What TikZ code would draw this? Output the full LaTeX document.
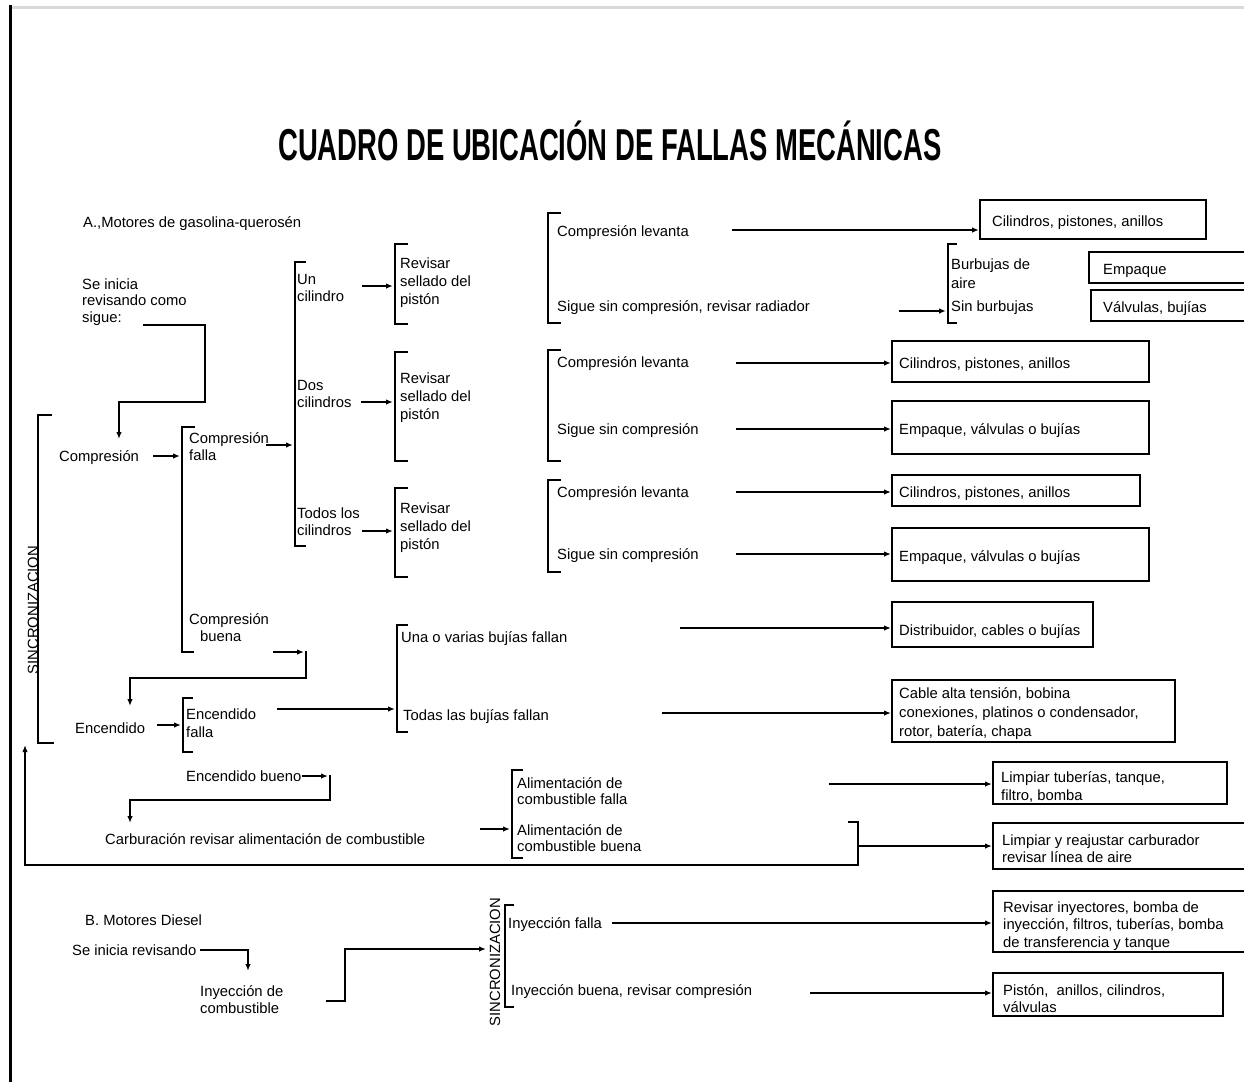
\documentclass[tikz,border=0pt]{standalone}
\usepackage{fontspec}
\setmainfont{Liberation Sans}
\usetikzlibrary{arrows.meta}
\newcommand\bodyfont{\fontsize{14.8}{17.5}\selectfont}
\tikzset{
  tx/.style={font=\bodyfont, inner sep=0pt, align=left, anchor=base west},
  ln/.style={line width=1.5pt},
  arr/.style={line width=1.5pt, -{Latex[length=7pt,width=5.5pt]}},
  box/.style={draw, line width=1.6pt, anchor=north west, inner sep=0pt},
  bt/.style={font=\bodyfont, inner sep=0pt, align=left, anchor=west, yshift=-3pt},
  vt/.style={font=\bodyfont, inner sep=0pt, rotate=90},
}
\begin{document}
\begin{tikzpicture}[x=1pt,y=-1pt]
\useasboundingbox (0,0) rectangle (1244,1082);
% frame
\draw[line width=3pt, black!15] (10,7) -- (1244,7);
\draw[line width=3pt] (10,5) -- (10,1082);
% title
\node[inner sep=0pt, anchor=base] (title) at (610,160)
  {\scalebox{0.614}[1]{\fontsize{44.7}{50}\selectfont\bfseries CUADRO DE UBICACIÓN DE FALLAS MECÁNICAS}};

% ---------------- Section A texts (multi-line nodes anchored at last baseline)
\node[tx] (hA) at (83,227) {A.,Motores de gasolina-querosén};
\node[tx, font=\fontsize{14.8}{16.5}\selectfont] (se) at (82,322) {Se inicia\\revisando como\\sigue:};
\node[tx] (comp) at (59,461) {Compresión};
\node[tx, font=\fontsize{14.8}{17}\selectfont] (cf) at (189,460) {Compresión\\falla};
\node[tx] (uc) at (297,301.5) {Un\\cilindro};
\node[tx] (dc) at (297,407.5) {Dos\\cilindros};
\node[tx] (tc) at (297,535.5) {Todos los\\cilindros};
\node[tx, font=\fontsize{14.8}{18}\selectfont] (r1) at (400,304) {Revisar\\sellado del\\pistón};
\node[tx, font=\fontsize{14.8}{18}\selectfont] (r2) at (400,419) {Revisar\\sellado del\\pistón};
\node[tx, font=\fontsize{14.8}{18}\selectfont] (r3) at (400,549) {Revisar\\sellado del\\pistón};
\node[tx] (cl1) at (557,236) {Compresión levanta};
\node[tx] (ss1) at (557,311) {Sigue sin compresión, revisar radiador};
\node[tx, font=\fontsize{14.8}{19}\selectfont] (bu) at (951,288) {Burbujas de\\aire};
\node[tx] (sb) at (951,311) {Sin burbujas};
\node[tx] (cl2) at (557,367) {Compresión levanta};
\node[tx] (ss2) at (557,434) {Sigue sin compresión};
\node[tx] (cl3) at (557,497) {Compresión levanta};
\node[tx] (ss3) at (557,559) {Sigue sin compresión};
\node[tx] (cb) at (189,641.5) {Compresión\\\hspace*{11pt}buena};
\node[tx] (enc) at (75,733) {Encendido};
\node[tx, font=\fontsize{14.8}{18}\selectfont] (ef) at (186,737) {Encendido\\falla};
\node[tx] (uv) at (401,642) {Una o varias bujías fallan};
\node[tx] (tb) at (403,720) {Todas las bujías fallan};
\node[tx] (eb) at (186,781) {Encendido bueno};
\node[tx] (carb) at (105,844) {Carburación revisar alimentación de combustible};
\node[tx, font=\fontsize{14.8}{16.5}\selectfont] (af) at (517,804.5) {Alimentación de\\combustible falla};
\node[tx, font=\fontsize{14.8}{16.5}\selectfont] (ab) at (517,851.5) {Alimentación de\\combustible buena};
\node[vt] (sA) at (33,610) {SINCRONIZACION};

% ---------------- Section B texts
\node[tx] (hB) at (85,925) {B. Motores Diesel};
\node[tx] (sid) at (72,955) {Se inicia revisando};
\node[tx, font=\fontsize{14.8}{17}\selectfont] (iyc) at (200,1013) {Inyección de\\combustible};
\node[tx] (if) at (508,928) {Inyección falla};
\node[tx] (ib) at (511,995) {Inyección buena, revisar compresión};
\node[vt] (sB) at (495,962) {SINCRONIZACION};

% ---------------- Boxes
\node[box, minimum width=226pt, minimum height=39pt] (b1) at (979,199) {};
\node[bt] (b1t) at ([xshift=13pt]b1.west) {Cilindros, pistones, anillos};
\node[box, minimum width=170pt, minimum height=31pt] (b2) at (1088,251) {};
\node[bt] (b2t) at ([xshift=15pt,yshift=-1pt]b2.west) {Empaque};
\node[box, minimum width=170pt, minimum height=31pt] (b3) at (1090,289) {};
\node[bt] (b3t) at ([xshift=13pt]b3.west) {Válvulas, bujías};
\node[box, minimum width=257pt, minimum height=41pt] (b4) at (891,340) {};
\node[bt] (b4t) at ([xshift=8pt]b4.west) {Cilindros, pistones, anillos};
\node[box, minimum width=257pt, minimum height=53pt] (b5) at (891,400) {};
\node[bt] (b5t) at ([xshift=8pt]b5.west) {Empaque, válvulas o bujías};
\node[box, minimum width=248pt, minimum height=31pt] (b6) at (891,474) {};
\node[bt] (b6t) at ([xshift=8pt]b6.west) {Cilindros, pistones, anillos};
\node[box, minimum width=257pt, minimum height=53pt] (b7) at (891,527) {};
\node[bt] (b7t) at ([xshift=8pt]b7.west) {Empaque, válvulas o bujías};
\node[box, minimum width=201pt, minimum height=45pt] (b8) at (891,601) {};
\node[bt] (b8t) at ([xshift=8pt,yshift=-4pt]b8.west) {Distribuidor, cables o bujías};
\node[box, minimum width=283pt, minimum height=62pt] (b9) at (891,679) {};
\node[bt, font=\fontsize{14.8}{19}\selectfont] (b9t) at ([xshift=8pt]b9.west) {Cable alta tensión, bobina\\conexiones, platinos o condensador,\\rotor, batería, chapa};
\node[box, minimum width=234pt, minimum height=42pt] (b10) at (992,761) {};
\node[bt] (b10t) at ([xshift=9pt,yshift=-1pt]b10.west) {Limpiar tuberías, tanque,\\filtro, bomba};
\node[box, minimum width=262pt, minimum height=46pt] (b11) at (992,822) {};
\node[bt] (b11t) at ([xshift=10pt]b11.west) {Limpiar y reajustar carburador\\revisar línea de aire};
\node[box, minimum width=262pt, minimum height=61pt] (b12) at (992,890) {};
\node[bt] (b12t) at ([xshift=11pt,yshift=-1.5pt]b12.west) {Revisar inyectores, bomba de\\inyección, filtros, tuberías, bomba\\de transferencia y tanque};
\node[box, minimum width=230pt, minimum height=43pt] (b13) at (992,972) {};
\node[bt] (b13t) at ([xshift=11pt,yshift=-1.5pt]b13.west) {Pistón,\ \ anillos, cilindros,\\válvulas};

% ---------------- Brackets
\draw[ln] (195,427) -- (182,427) -- (182,652) -- (194,652);   % K1
\draw[ln] (306,262) -- (295,262) -- (295,546) -- (306,546);   % K2
\draw[ln] (408,244) -- (395,244) -- (395,324) -- (408,324);   % K3a
\draw[ln] (408,352) -- (395,352) -- (395,461) -- (408,461);   % K3b
\draw[ln] (408,488) -- (395,488) -- (395,577) -- (408,577);   % K3c
\draw[ln] (561,213) -- (548,213) -- (548,323) -- (561,323);   % K4a
\draw[ln] (561,350) -- (548,350) -- (548,461) -- (561,461);   % K4b
\draw[ln] (561,480) -- (548,480) -- (548,572) -- (561,572);   % K4c
\draw[ln] (957,244) -- (948,244) -- (948,323) -- (957,323);   % K5
\draw[ln] (193,698) -- (183,698) -- (183,752) -- (193,752);   % K6
\draw[ln] (408,625) -- (397,625) -- (397,732) -- (408,732);   % K7
\draw[ln] (52,415) -- (38,415) -- (38,743) -- (54,743);       % K8
\draw[ln] (523,770) -- (512,770) -- (512,858) -- (523,858);   % K9
\draw[ln] (514,905) -- (505,905) -- (505,1007) -- (514,1007); % K10

% ---------------- Connector end points
\coordinate (s1) at (143,325);  \coordinate (e1) at (119,439);
\coordinate (s2) at (153,456);  \coordinate (e2) at (180,456);
\coordinate (s3) at (266,445);  \coordinate (e3) at (293,445);
\coordinate (s4) at (362,286);  \coordinate (e4) at (393,286);
\coordinate (s5) at (361,402);  \coordinate (e5) at (393,402);
\coordinate (s6) at (362,531);  \coordinate (e6) at (393,531);
\coordinate (s7) at (732,230);
\coordinate (s8) at (899,311);  \coordinate (e8) at (946,311);
\coordinate (s9) at (736,363);
\coordinate (s10) at (736,429);
\coordinate (s11) at (736,492);
\coordinate (s12) at (736,554);
\coordinate (s13) at (273,652); \coordinate (e13) at (304,652);
\coordinate (s13b) at (306,651); \coordinate (e13b) at (130,706);
\coordinate (s14) at (157,725); \coordinate (e14) at (181,725);
\coordinate (s15) at (277,709); \coordinate (e15) at (395,709);
\coordinate (s16) at (680,628);
\coordinate (s17) at (662,713);
\coordinate (s18) at (302,776); \coordinate (e18) at (328,776);
\coordinate (s18b) at (330,775); \coordinate (e18b) at (130,823);
\coordinate (s19) at (480,829); \coordinate (e19) at (510,829);
\coordinate (s20) at (829,784);
\coordinate (s21) at (858,846);
\coordinate (s22) at (848,822); \coordinate (e22) at (25,745);
\coordinate (s23) at (200,950); \coordinate (e23) at (248,971);
\coordinate (s24) at (326,1001); \coordinate (e24) at (486,949);
\coordinate (s25) at (612,923);
\coordinate (s26) at (810,993);

% ---------------- Connectors
\draw[arr] (s1) -- (205,325) -- (205,402) -- (119,402) -- (e1);
\draw[arr] (s2) -- (e2);
\draw[arr] (s3) -- (e3);
\draw[arr] (s4) -- (e4);
\draw[arr] (s5) -- (e5);
\draw[arr] (s6) -- (e6);
\draw[arr] (s7) -- (b1.west |- s7);
\draw[arr] (s8) -- (e8);
\draw[arr] (s9) -- (b4.west |- s9);
\draw[arr] (s10) -- (b5.west |- s10);
\draw[arr] (s11) -- (b6.west |- s11);
\draw[arr] (s12) -- (b7.west |- s12);
\draw[arr] (s13) -- (e13);
\draw[arr] (s13b) -- (306,678) -- (130,678) -- (e13b);
\draw[arr] (s14) -- (e14);
\draw[arr] (s15) -- (e15);
\draw[arr] (s16) -- (b8.west |- s16);
\draw[arr] (s17) -- (b9.west |- s17);
\draw[arr] (s18) -- (e18);
\draw[arr] (s18b) -- (330,800) -- (130,800) -- (e18b);
\draw[arr] (s19) -- (e19);
\draw[arr] (s20) -- (b10.west |- s20);
\draw[arr] (s21) -- (b11.west |- s21);
\draw[arr] (s22) -- (858,822) -- (858,865) -- (25,865) -- (e22);
\draw[arr] (s23) -- (248,950) -- (e23);
\draw[arr] (s24) -- (345,1001) -- (345,949) -- (e24);
\draw[arr] (s25) -- (b12.west |- s25);
\draw[arr] (s26) -- (b13.west |- s26);
\end{tikzpicture}
\end{document}
